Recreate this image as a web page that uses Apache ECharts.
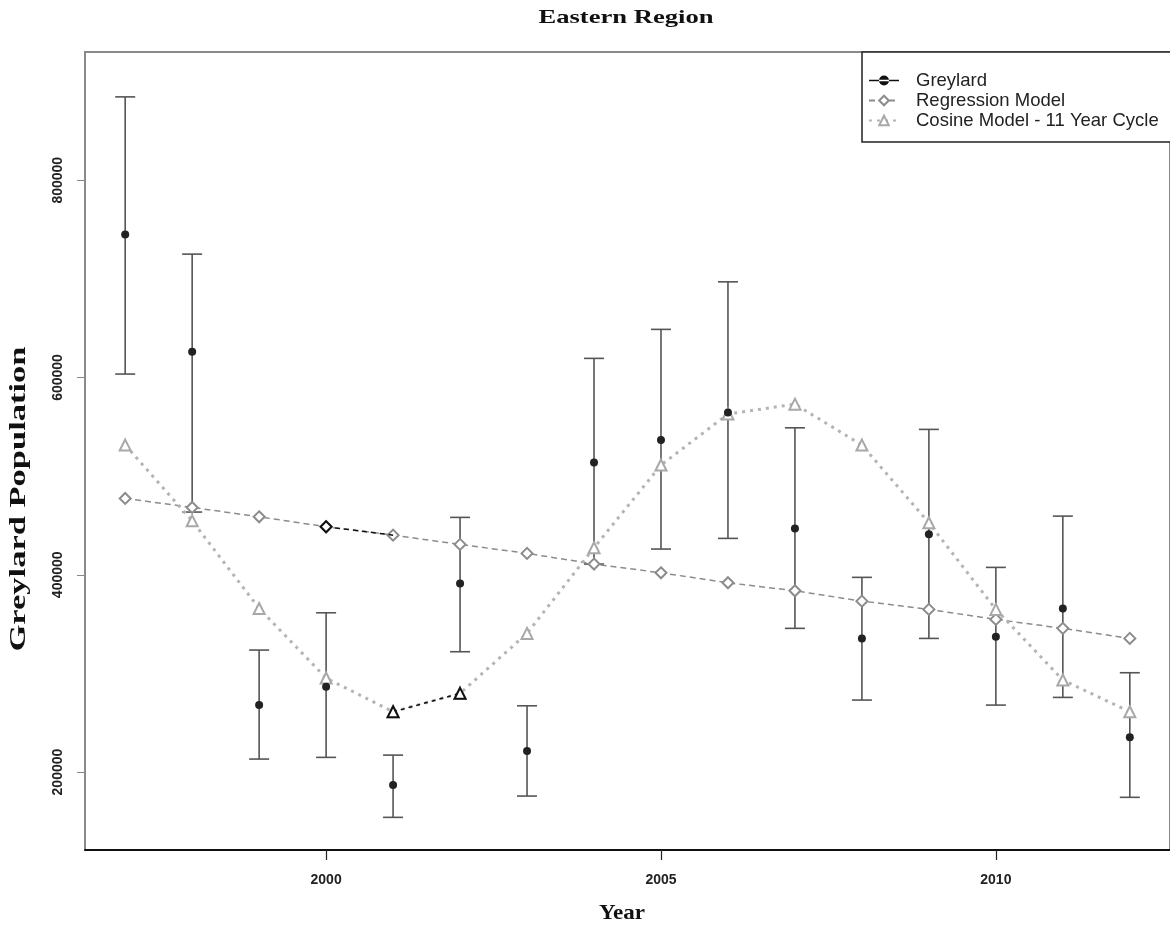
<!DOCTYPE html>
<html>
<head>
<meta charset="utf-8">
<script src="https://cdn.jsdelivr.net/npm/echarts@6/dist/echarts.min.js"></script>
<style>
html,body{margin:0;padding:0;background:#fff;}
#chart{width:1170px;height:929px;}
</style>
</head>
<body>
<div id="chart"></div>
<script>
const years = [1997,1998,1999,2000,2001,2002,2003,2004,2005,2006,2007,2008,2009,2010,2011,2012];
const greylard = [745100,626000,267900,286500,186800,391300,221300,513900,536600,564600,447000,335500,441000,337200,365900,235200];
const upperCI = [884500,725100,323700,361500,217200,458200,267200,619400,648800,697000,549000,397400,547400,407500,459500,300700];
const lowerCI = [603500,463600,213200,214900,154100,322000,175700,410900,426100,436900,345700,273000,335500,267900,275700,174400];
const regression = [477400,468300,458800,448700,440200,430800,421700,410900,402000,391900,383800,373300,364900,354800,345700,335500];
const cosine = [531500,454700,365900,295300,261100,279800,340600,427400,511200,563000,573000,531500,452700,364900,293300,261100];
const xTicks = [2000,2005,2010];
const yTicks = [200000,400000,600000,800000];
const seriesNames = ['Greylard','Regression Model','Cosine Model - 11 Year Cycle'];

const pairs = (ys) => years.map((x,i)=>[x, ys[i]]);
const errData = years.map((x,i)=>[x, lowerCI[i], upperCI[i]]);

const chart = echarts.init(document.getElementById('chart'), null, {renderer:'canvas'});
const serif = '"Liberation Serif","DejaVu Serif",serif';
const sans = '"Liberation Sans",Arial,sans-serif';

chart.setOption({
  animation:false,
  backgroundColor:'#fff',
  grid:{left:85, right:-2, top:52, bottom:79, show:true, borderColor:'#8a8a8a', borderWidth:2},
  graphic:[
    {type:'text', x:626, y:18, scaleX:1.4, style:{text:'Eastern Region', font:'bold 19px '+serif, fill:'#111', textAlign:'center', textVerticalAlign:'middle'}},
    {type:'text', x:622, y:914, scaleX:1.1, style:{text:'Year', font:'bold 21px '+serif, fill:'#111', textAlign:'center', textVerticalAlign:'middle'}},
    {type:'text', x:19, y:499, rotation:Math.PI/2, scaleX:1.5, style:{text:'Greylard Population', font:'bold 23px '+serif, fill:'#111', textAlign:'center', textVerticalAlign:'middle'}}
  ],
  legend:{
    data:[
      {name:seriesNames[0], icon:'path://M0,9 H36 V11 H0 Z M18,10 m-6,0 a6,6 0 1,0 12,0 a6,6 0 1,0 -12,0 Z', itemStyle:{color:'#111', borderWidth:0}},
      {name:seriesNames[1]},
      {name:seriesNames[2]}
    ],
    orient:'vertical', left:862, top:52, width:320,
    padding:[19,40,12,6], itemGap:1, itemWidth:30, itemHeight:12,
    backgroundColor:'#fff', borderColor:'#222', borderWidth:1.5, borderRadius:0,
    textStyle:{fontFamily:sans, fontSize:18.5, lineHeight:19, color:'#222', padding:[0,0,0,12]}
  },
  xAxis:{
    type:'value', min:1996.4, max:2012.6,
    splitLine:{show:false},
    axisLine:{show:true, onZero:false, lineStyle:{color:'#111', width:2}},
    axisTick:{show:true, customValues:xTicks, length:10, lineStyle:{color:'#222', width:1.2}},
    axisLabel:{customValues:xTicks, formatter:v=>String(v), margin:23, fontFamily:sans, fontWeight:'bold', fontSize:14, color:'#222'}
  },
  yAxis:{
    type:'value', min:121000, max:930000,
    splitLine:{show:false},
    axisLine:{show:true, lineStyle:{color:'#8a8a8a', width:2}},
    axisTick:{show:true, customValues:yTicks, length:8, lineStyle:{color:'#888', width:1}},
    axisLabel:{customValues:yTicks, formatter:v=>String(v), rotate:90, margin:20, fontFamily:sans, fontWeight:'bold', fontSize:14, color:'#222'}
  },
  series:[
    {
      name:'errbars', type:'custom', data:errData, z:3, silent:true,
      renderItem:(params, api)=>{
        const x = api.value(0);
        const lo = api.coord([x, api.value(1)]);
        const hi = api.coord([x, api.value(2)]);
        const w = 10;
        const st = {stroke:'#555', lineWidth:1.6};
        return {type:'group', children:[
          {type:'line', shape:{x1:lo[0], y1:lo[1], x2:hi[0], y2:hi[1]}, style:st},
          {type:'line', shape:{x1:lo[0]-w, y1:lo[1], x2:lo[0]+w, y2:lo[1]}, style:st},
          {type:'line', shape:{x1:hi[0]-w, y1:hi[1], x2:hi[0]+w, y2:hi[1]}, style:st}
        ]};
      }
    },
    {
      name:seriesNames[1], type:'line', data:pairs(regression), z:4,
      symbol:'emptyDiamond', symbolSize:11,
      lineStyle:{color:'#8c8c8c', width:1.5, type:[6,4]},
      itemStyle:{color:'#8c8c8c', borderWidth:1.8}
    },
    {
      name:seriesNames[2], type:'line', data:pairs(cosine), z:4,
      symbol:'emptyTriangle', symbolSize:11,
      lineStyle:{color:'#b4b4b4', width:3, type:[3,5]},
      itemStyle:{color:'#a8a8a8', borderWidth:1.8}
    },
    {
      name:'regBlack', type:'line', z:5, silent:true,
      data:[{value:[years[3], regression[3]]},{value:[years[4], regression[4]], symbol:'none'}],
      symbol:'emptyDiamond', symbolSize:11,
      lineStyle:{color:'#111', width:1.5, type:[5,4]},
      itemStyle:{color:'#111', borderWidth:1.8}
    },
    {
      name:'cosBlack', type:'line', z:5, silent:true,
      data:[[years[4], cosine[4]],[years[5], cosine[5]]],
      symbol:'emptyTriangle', symbolSize:11,
      lineStyle:{color:'#111', width:1.5, type:[4,4]},
      itemStyle:{color:'#111', borderWidth:1.8}
    },
    {
      name:seriesNames[0], type:'line', data:pairs(greylard), z:6,
      symbol:'circle', symbolSize:8,
      lineStyle:{opacity:0, width:0},
      itemStyle:{color:'#222'}
    }
  ]
});
</script>
</body>
</html>
